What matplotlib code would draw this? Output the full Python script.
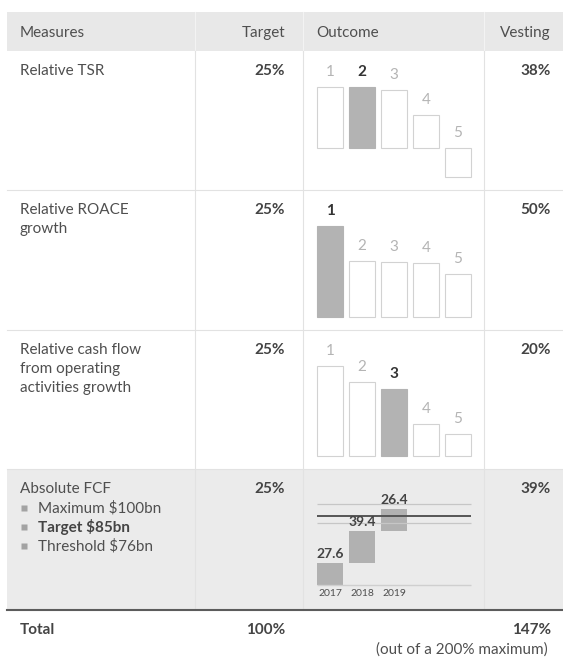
import matplotlib
matplotlib.use("Agg")
import matplotlib.pyplot as plt
from matplotlib.patches import Rectangle
import numpy as np

plt.rcParams['font.family'] = ['Lato', 'DejaVu Sans']

# data
headers = ['Measures', 'Target', 'Outcome', 'Vesting']
measures = [['Relative TSR'],
            ['Relative ROACE', 'growth'],
            ['Relative cash flow', 'from operating', 'activities growth'],
            ['Absolute FCF']]
fcf_items = ['Maximum $100bn', 'Target $85bn', 'Threshold $76bn']
targets = ['25%', '25%', '25%', '25%']
vesting = ['38%', '50%', '20%', '39%']
ranks = ['1', '2', '3', '4', '5']
tsr_values = [61.6, 61.6, 58.3, 33.0, -28.4]
roace_values = [90.7, 55.4, 54.4, 54.0, 42.4]
cashflow_values = [90.3, 73.7, 67.0, 31.7, 21.7]
bp_position = [2, 1, 3]  # highlighted rank in each relative measure
years = ['2017', '2018', '2019']
fcf_values = [27.6, 39.4, 26.4]
fcf_levels = [100, 85, 76]  # maximum, target, threshold
total_target = '100%'
total_vesting = '147%'

W, H = 563, 657
TEXT = '#4f4f4f'
BOLD = '#444444'
LIGHT = '#b4b4b4'
GRID = '#e2e2e2'

fig = plt.figure(figsize=(W / 100, H / 100), dpi=100)
ax = fig.add_axes([0, 0, 1, 1])
ax.set_xlim(0, W)
ax.set_ylim(H, 0)
ax.axis('off')

left = 7
col_lines = [195, 303, 484]
rows = [51, 190, 330, 469, 610]

# backgrounds
ax.add_patch(Rectangle((left, 12), W - left, rows[0] - 12, color='#e8e8e8', lw=0))
ax.add_patch(Rectangle((left, rows[3]), W - left, rows[4] - rows[3], color='#ebebeb', lw=0))

for x in col_lines:
    ax.plot([x, x], [12, rows[0]], color='#f3f3f3', lw=0.8)
    ax.plot([x, x], [rows[0], rows[4]], color=GRID, lw=0.8)
for y in rows[1:4]:
    ax.plot([left, W], [y, y], color=GRID, lw=0.8)
ax.plot([left, W], [rows[4], rows[4]], color='#5c5c5c', lw=1.5)

# header
hy = 33
ax.text(20, hy, headers[0], ha='left', va='center', fontsize=11, color=TEXT)
ax.text(285, hy, headers[1], ha='right', va='center', fontsize=11, color=TEXT)
ax.text(316, hy, headers[2], ha='left', va='center', fontsize=11, color=TEXT)
ax.text(551, hy, headers[3], ha='right', va='center', fontsize=11, color=TEXT)

# rows text
for i, lines in enumerate(measures):
    y0 = rows[i] + 20
    for j, line in enumerate(lines):
        ax.text(20, y0 + 19 * j, line, ha='left', va='center', fontsize=11, color=TEXT)
    ax.text(285, y0, targets[i], ha='right', va='center', fontsize=11,
            fontweight='bold', color=BOLD)
    ax.text(551, y0, vesting[i], ha='right', va='center', fontsize=11,
            fontweight='bold', color=BOLD)

y0 = rows[3] + 20
for j, item in enumerate(fcf_items):
    yy = y0 + 19 * (j + 1)
    ax.plot(24, yy, marker='s', ms=3.7, color='#a3a3a3', mec='none')
    ax.text(38, yy, item, ha='left', va='center', fontsize=11,
            color=BOLD if j == 1 else TEXT,
            fontweight='bold' if j == 1 else 'normal')

# total row
ax.text(20, 630, 'Total', ha='left', va='center', fontsize=11, fontweight='bold', color=BOLD)
ax.text(285, 630, total_target, ha='right', va='center', fontsize=11, fontweight='bold', color=BOLD)
ax.text(551, 630, total_vesting, ha='right', va='center', fontsize=11, fontweight='bold', color=BOLD)
ax.text(548, 650, '(out of a 200% maximum)', ha='right', va='center', fontsize=11, color=TEXT)


def cell_axes(top, bottom, baseline, scale):
    # inset axes covering the outcome cell; 1 bar pitch = 32px
    a = fig.add_axes([col_lines[1] / W, 1 - bottom / H,
                      (col_lines[2] - col_lines[1]) / W, (bottom - top) / H])
    a.set_xlim((col_lines[1] - 330) / 32, (col_lines[2] - 330) / 32)
    a.set_ylim(-(bottom - baseline) / scale, (baseline - top) / scale)
    a.axis('off')
    return a


rank_charts = [(tsr_values, 148.3), (roace_values, 316.7), (cashflow_values, 456)]
for k, (vals, base) in enumerate(rank_charts):
    a = cell_axes(rows[k], rows[k + 1], base, 1.0)
    x = np.arange(len(vals))
    hl = bp_position[k] - 1
    colors = ['#b3b3b3' if i == hl else 'white' for i in x]
    edges = ['#b3b3b3' if i == hl else '#d2d2d2' for i in x]
    a.bar(x, vals, width=0.83, color=colors, edgecolor=edges, lw=0.8)
    for i, v in enumerate(vals):
        a.annotate(ranks[i], (i, max(v, 0)), xytext=(0, 15), textcoords='offset pixels',
                   ha='center', va='center', fontsize=11,
                   color='#333333' if i == hl else LIGHT,
                   fontweight='bold' if i == hl else 'normal')

# absolute FCF
a = cell_axes(rows[3], rows[4], 585, 0.812)
x = np.arange(len(fcf_values))
bottoms = np.concatenate([[0], np.cumsum(fcf_values)[:-1]])
a.hlines(0, -0.42, 4.4, color='#cfcfcf', lw=1)
a.hlines([fcf_levels[0], fcf_levels[2]], -0.42, 4.4, color='#c6c6c6', lw=0.9)
a.bar(x, fcf_values, bottom=bottoms, width=0.83, color='#b1b1b1', lw=0)
a.hlines(fcf_levels[1], -0.42, 4.4, color='#555555', lw=1.4)
for i, v in enumerate(fcf_values):
    a.annotate(f'{v:.1f}', (i, bottoms[i] + v), xytext=(0, 9), textcoords='offset pixels',
               ha='center', va='center', fontsize=10, fontweight='bold', color=BOLD)
    a.annotate(years[i], (i, 0), xytext=(0, -8), textcoords='offset pixels',
               ha='center', va='center', fontsize=7.5, color=TEXT)

fig.savefig('out.png', dpi=100)
